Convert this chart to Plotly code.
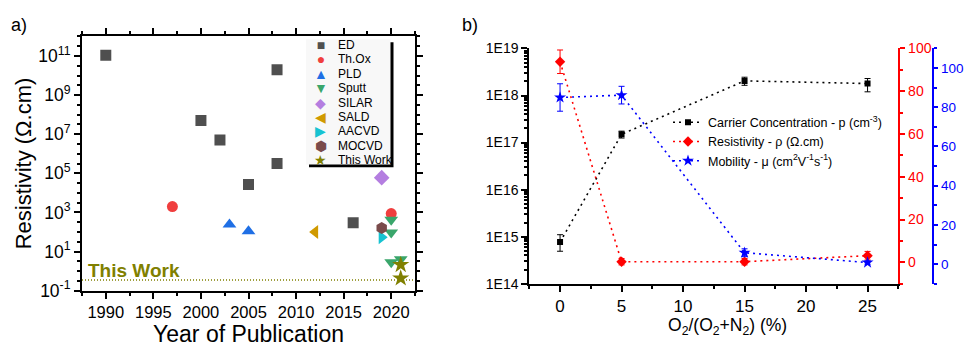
import plotly.graph_objects as go

W, H = 968, 349
def px(x):
    return x / W
def py(y):
    return 1 - y / H

FONT = "Arial, Liberation Sans, sans-serif"

# ---------------- (a) data ----------------
methods = ["ED", "Th.Ox", "PLD", "Sputt", "SILAR", "SALD", "AACVD", "MOCVD", "This Work"]
method_colors = ["#4f4f4f", "#f03e3e", "#1f6fe5", "#3aa66b", "#b47ee0",
                 "#d09a00", "#17c3d1", "#7a4b4b", "#808000"]
method_symbols = ["square", "circle", "triangle-up", "triangle-down", "diamond",
                  "triangle-left", "triangle-right", "hexagon", "star"]
legend_glyphs = ["■", "●", "▲", "▼", "◆", "◀", "▶", "⬢", "★"]

ed_year = [1990, 2000, 2002, 2005, 2008, 2008, 2016]
ed_res = [1.1e11, 5e7, 5e6, 2.7e4, 2e10, 3.2e5, 300]
thox_year = [1997, 2020]
thox_res = [2000, 870]
pld_year = [2003, 2005]
pld_res = [240, 110]
sputt_year = [2020, 2020, 2020, 2021]
sputt_res = [420, 93, 2.8, 4.0]
silar_year = [2019]
silar_res = [6e4]
sald_year = [2012]
sald_res = [100]
aacvd_year = [2019]
aacvd_res = [54]
mocvd_year = [2019]
mocvd_res = [160]
tw_year = [2021, 2021]
tw_res = [2.1, 0.43]
this_work_level = 0.35

years_by_method = [ed_year, thox_year, pld_year, sputt_year, silar_year,
                   sald_year, aacvd_year, mocvd_year, tw_year]
res_by_method = [ed_res, thox_res, pld_res, sputt_res, silar_res,
                 sald_res, aacvd_res, mocvd_res, tw_res]
method_sizes = [11, 11, 12, 12, 12, 12, 12, 12, 13]

year_ticks = [1990, 1995, 2000, 2005, 2010, 2015, 2020]
res_tick_exps = [-1, 1, 3, 5, 7, 9, 11]

# ---------------- (b) data ----------------
o2_ratio = [0, 5, 15, 25]
carrier = [7.7e14, 1.5e17, 2.05e18, 1.8e18]
carrier_err_plus = [3.3e14, 2.5e16, 4e17, 5e17]
carrier_err_minus = [2.8e14, 2.5e16, 4e17, 6e17]
resistivity = [93.8, 0.3, 0.3, 3.1]
resistivity_err = [5.5, 1.5, 1.5, 2.0]
mobility = [85.0, 86.2, 5.8, 0.8]
mobility_err = [7.0, 4.5, 2.0, 0.8]

conc_tick_exps = [14, 15, 16, 17, 18, 19]
x_ticks_b = [0, 5, 10, 15, 20, 25]
red_ticks = [0, 20, 40, 60, 80, 100]
blue_ticks = [0, 20, 40, 60, 80, 100]

fig = go.Figure()

# (a) scatter
for name, col, sym, yrs, vals, sz in zip(methods, method_colors, method_symbols,
                                         years_by_method, res_by_method, method_sizes):
    fig.add_trace(go.Scatter(
        x=yrs, y=vals, mode="markers", name=name, showlegend=False,
        marker=dict(symbol=sym, color=col, size=sz, line=dict(width=0)),
        xaxis="x", yaxis="y"))

DOTS = "2px,4px"
# (b) traces
fig.add_trace(go.Scatter(
    x=o2_ratio, y=carrier, mode="lines+markers",
    name="Carrier Concentration - p (cm<sup>-3</sup>)",
    line=dict(color="black", dash=DOTS, width=1.6),
    marker=dict(symbol="square", color="black", size=6),
    error_y=dict(type="data", array=carrier_err_plus, arrayminus=carrier_err_minus,
                 color="black", thickness=1, width=3),
    xaxis="x2", yaxis="y2", legend="legend2"))
fig.add_trace(go.Scatter(
    x=o2_ratio, y=resistivity, mode="lines+markers",
    name="Resistivity - ρ (Ω.cm)",
    line=dict(color="red", dash=DOTS, width=1.6),
    marker=dict(symbol="diamond", color="red", size=8),
    error_y=dict(type="data", array=resistivity_err, color="red", thickness=1, width=3),
    xaxis="x2", yaxis="y3", legend="legend2"))
fig.add_trace(go.Scatter(
    x=o2_ratio, y=mobility, mode="lines+markers",
    name="Mobility - μ (cm<sup>2</sup>V<sup>-1</sup>s<sup>-1</sup>)",
    line=dict(color="blue", dash=DOTS, width=1.6),
    marker=dict(symbol="star", color="blue", size=9),
    error_y=dict(type="data", array=mobility_err, color="blue", thickness=1, width=3),
    xaxis="x2", yaxis="y4", legend="legend2"))

# ---------------- layout ----------------
axis_common = dict(showgrid=False, zeroline=False, showline=True, linecolor="black",
                   linewidth=2, ticks="outside", ticklen=6, tickwidth=1.5,
                   tickcolor="black")

ann = []
shapes = []

# "This Work" reference line
shapes.append(dict(type="line", xref="x domain", yref="y", x0=0, x1=1,
                   y0=this_work_level, y1=this_work_level,
                   line=dict(color="#808000", width=1.5, dash="1px,2px")))
ann.append(dict(text="<b>This Work</b>", xref="paper", yref="paper",
                x=px(86), y=py(277), xanchor="left", yanchor="middle",
                showarrow=False, font=dict(family=FONT, size=19, color="#808000")))

# legend box for (a)
box_l, box_t, box_r, box_b = 306, 33, 390.5, 165
shapes.append(dict(type="rect", xref="paper", yref="paper",
                   x0=px(box_l + 3), x1=px(box_r + 3), y0=py(box_b + 3), y1=py(box_t + 3),
                   fillcolor="black", line=dict(width=0), layer="above"))
shapes.append(dict(type="rect", xref="paper", yref="paper",
                   x0=px(box_l), x1=px(box_r), y0=py(box_b), y1=py(box_t),
                   fillcolor="#f8f8f8", line=dict(width=0), layer="above"))
row_step = 14.4
base_size = row_step / 1.3
glyph_text = "<br>".join(
    "<span style='color:%s;font-size:14px'>%s</span>" % (c, g)
    for c, g in zip(method_colors, legend_glyphs))
name_text = "<br>".join(
    "<span style='font-size:12px'>%s</span>" % n for n in methods)
legend_mid = (box_t + box_b) / 2 + 1
ann.append(dict(text=glyph_text, xref="paper", yref="paper", x=px(320.7), y=py(legend_mid),
                xanchor="center", yanchor="middle", align="center", showarrow=False,
                borderpad=0, font=dict(family=FONT, size=base_size, color="black")))
ann.append(dict(text=name_text, xref="paper", yref="paper", x=px(337), y=py(legend_mid),
                xanchor="left", yanchor="middle", align="left", showarrow=False,
                borderpad=0, font=dict(family=FONT, size=base_size, color="black")))

# panel labels
ann.append(dict(text="a)", xref="paper", yref="paper", x=px(9), y=py(18),
                xanchor="left", yanchor="middle", showarrow=False,
                font=dict(family=FONT, size=18, color="black")))
ann.append(dict(text="b)", xref="paper", yref="paper", x=px(460), y=py(18),
                xanchor="left", yanchor="middle", showarrow=False,
                font=dict(family=FONT, size=18, color="black")))
# x title of panel (b)
ann.append(dict(text="O<sub>2</sub>/(O<sub>2</sub>+N<sub>2</sub>) (%)",
                xref="paper", yref="paper", x=px(727), y=py(336),
                xanchor="center", yanchor="middle", showarrow=False,
                borderpad=0, font=dict(family=FONT, size=17.5, color="black")))

fig.update_layout(
    width=W, height=H,
    margin=dict(l=0, r=0, t=0, b=0),
    paper_bgcolor="white", plot_bgcolor="white",
    font=dict(family=FONT, color="black"),
    xaxis=dict(**axis_common, domain=[px(82), px(415)], anchor="y",
               range=[1987.5, 2022.5], tickvals=year_ticks, mirror="allticks",
               tickfont=dict(size=16.5),
               minor=dict(ticks="outside", ticklen=3, tick0=1987.5, dtick=2.5,
                          tickcolor="black"),
               title=dict(text="Year of Publication", font=dict(size=23), standoff=1)),
    yaxis=dict(**axis_common, domain=[py(298), py(30)], anchor="x", type="log",
               range=[-1, 12], mirror="allticks",
               tickvals=[10 ** e for e in res_tick_exps],
               ticktext=["10<sup>%d</sup>" % e for e in res_tick_exps],
               tickfont=dict(size=17.5),
               minor=dict(ticks="outside", ticklen=3, tickcolor="black",
                          tickvals=[10 ** (e / 2) for e in range(-2, 25)]),
               title=dict(text="Resistivity (Ω.cm)", font=dict(size=22), standoff=1)),
    xaxis2=dict(**axis_common, domain=[px(529.3), px(898.3)], anchor="y2",
                range=[-2.5, 27.5], tickvals=x_ticks_b, tickfont=dict(size=17),
                minor=dict(ticks="outside", ticklen=3, tick0=2.5, dtick=5,
                           tickcolor="black")),
    yaxis2=dict(**axis_common, domain=[py(290.7), py(42.7)], anchor="x2", type="log",
                range=[14, 19],
                tickvals=[10 ** e for e in conc_tick_exps],
                ticktext=["1E%d" % e for e in conc_tick_exps],
                tickfont=dict(size=14),
                minor=dict(ticks="outside", ticklen=3, tickcolor="black",
                           tickvals=[m * 10 ** e for e in range(14, 19) for m in range(2, 10)])),
    yaxis3=dict(showgrid=False, zeroline=False, showline=True, linecolor="red",
                linewidth=2, ticks="outside", ticklen=5, tickwidth=1.5, tickcolor="red",
                overlaying="y2", anchor="x2", side="right", range=[-10, 100],
                tickvals=red_ticks, tickfont=dict(size=14, color="red"),
                minor=dict(ticks="outside", ticklen=3, tickcolor="red", tick0=10, dtick=20)),
    yaxis4=dict(showgrid=False, zeroline=False, showline=True, linecolor="blue",
                linewidth=2, ticks="outside", ticklen=4, tickwidth=1.5, tickcolor="blue",
                overlaying="y2", anchor="free", position=px(933.3), side="right",
                range=[-10, 110], tickvals=blue_ticks,
                tickfont=dict(size=13.5, color="blue"),
                minor=dict(ticks="outside", ticklen=3, tickcolor="blue", tick0=10, dtick=20)),
    legend2=dict(x=px(668), y=py(105), xanchor="left", yanchor="top",
                 bgcolor="rgba(0,0,0,0)", font=dict(family=FONT, size=12.5, color="black"),
                 tracegroupgap=0),
    shapes=shapes,
    annotations=ann,
)

fig.write_html("out.html", config={"displayModeBar": False},
               post_script="document.body.style.margin='0';document.body.style.padding='0';")
